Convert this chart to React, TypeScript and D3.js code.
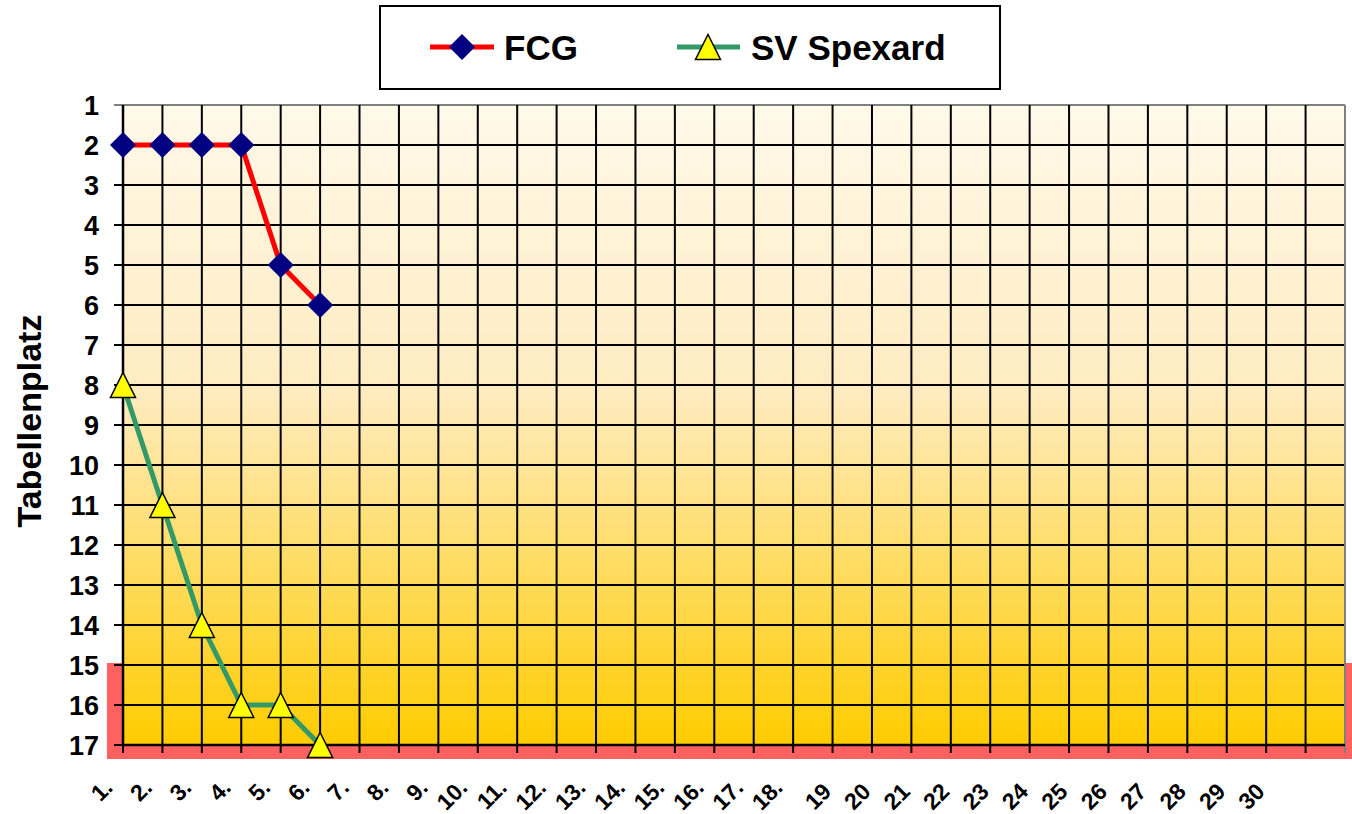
import React from 'react';
import * as d3 from 'd3';

// Spieltage (32 Positionen, die letzten zwei ohne Beschriftung)
const rounds = [
  '1.', '2.', '3.', '4.', '5.', '6.', '7.', '8.', '9.', '10.',
  '11.', '12.', '13.', '14.', '15.', '16.', '17.', '18.', '19', '20',
  '21', '22', '23', '24', '25', '26', '27', '28', '29', '30', '', ' ',
];
const places = d3.range(1, 18);
const fcg = [2, 2, 2, 2, 5, 6];
const spexard = [8, 11, 14, 16, 16, 17];
const relegation = [15, 17];

const W = 1352;
const H = 814;
const margin = { top: 105, right: 7, bottom: 69, left: 123 };
const font = '"Liberation Sans", Arial, sans-serif';

export default function App() {
  const x = d3.scalePoint<string>()
    .domain(rounds)
    .range([margin.left, W - margin.right]);
  const y = d3.scaleLinear()
    .domain([1, 17])
    .range([margin.top, H - margin.bottom]);

  const line = d3.line<number>()
    .x((_, i) => x(rounds[i])!)
    .y(d => y(d));

  const left = margin.left;
  const right = W - margin.right;
  const top = y(1);
  const bottom = y(17);

  const diamond = 13;
  const tri = 12.5;

  return (
    <svg width={W} height={H} style={{ position: 'absolute', left: 0, top: 0 }}>
      <defs>
        <linearGradient id="bg" x1="0" y1="0" x2="0" y2="1">
          <stop offset="0%" stopColor="#FFF9E9" />
          <stop offset="45%" stopColor="#FEEBC0" />
          <stop offset="100%" stopColor="#FFCC00" />
        </linearGradient>
      </defs>

      {/* Abstiegszone */}
      <rect x={107} y={y(relegation[0]) - 2} width={W - 107}
        height={bottom + 14 - (y(relegation[0]) - 2)} fill="#FF6060" />

      <rect x={left} y={top} width={right - left} height={bottom - top} fill="url(#bg)" />

      {/* Gitter */}
      {places.map(p => (
        <line key={'h' + p} x1={left - 9} x2={right} y1={y(p)} y2={y(p)}
          stroke={p === 1 ? '#808080' : '#000'} strokeWidth={2} />
      ))}
      {rounds.map((r, i) => (
        <line key={'v' + i} x1={x(r)!} x2={x(r)!} y1={top} y2={bottom + 8}
          stroke={i === rounds.length - 1 ? '#808080' : '#000'} strokeWidth={2} />
      ))}
      <line x1={left} x2={left} y1={top} y2={bottom} stroke="#000" strokeWidth={2.5} />
      <line x1={left} x2={right} y1={bottom} y2={bottom} stroke="#000" strokeWidth={2.5} />

      {/* Y-Achse */}
      {places.map(p => (
        <text key={'yl' + p} x={99} y={y(p)} dy="0.36em" textAnchor="end"
          fontFamily={font} fontWeight="bold" fontSize={27}>{p}</text>
      ))}
      <text transform={`translate(41,${(top + bottom) / 2 - 4}) rotate(-90)`} textAnchor="middle"
        fontFamily={font} fontWeight="bold" fontSize={34}>Tabellenplatz</text>

      {/* X-Achse */}
      {rounds.map((r, i) => {
        const dotted = r.endsWith('.');
        const tx = x(r)! - (dotted ? 9 : 0);
        const ty = dotted ? 789 : 793;
        return (
          <text key={'xl' + i} transform={`translate(${tx},${ty}) rotate(-45)`}
            textAnchor="end" fontFamily={font} fontWeight="bold" fontSize={23}>{r}</text>
        );
      })}

      {/* Reihen */}
      <path d={line(fcg)!} fill="none" stroke="#FF0000" strokeWidth={5} strokeLinejoin="round" />
      <path d={line(spexard)!} fill="none" stroke="#339966" strokeWidth={5} strokeLinejoin="round" />
      {fcg.map((v, i) => (
        <path key={'d' + i} transform={`translate(${x(rounds[i])},${y(v)})`}
          d={`M0,${-diamond}L${diamond},0L0,${diamond}L${-diamond},0Z`} fill="#000080" />
      ))}
      {spexard.map((v, i) => (
        <path key={'t' + i} transform={`translate(${x(rounds[i])},${y(v)})`}
          d={`M0,${-tri}L${tri},${tri}L${-tri},${tri}Z`} fill="#FFFF00" stroke="#000" strokeWidth={1.5} />
      ))}

      {/* Legende */}
      <rect x={380} y={6} width={620} height={83} fill="#fff" stroke="#000" strokeWidth={2} />
      <line x1={430} x2={494} y1={47} y2={47} stroke="#FF0000" strokeWidth={5} />
      <path transform="translate(462,47)" d="M0,-13L13,0L0,13L-13,0Z" fill="#000080" />
      <text x={504} y={60} fontFamily={font} fontWeight="bold" fontSize={35}>FCG</text>
      <line x1={677} x2={740} y1={47} y2={47} stroke="#339966" strokeWidth={5} />
      <path transform="translate(708,47)" d="M0,-12.5L12.5,12.5L-12.5,12.5Z" fill="#FFFF00" stroke="#000" strokeWidth={1.5} />
      <text x={751} y={60} fontFamily={font} fontWeight="bold" fontSize={35}>SV Spexard</text>
    </svg>
  );
}
